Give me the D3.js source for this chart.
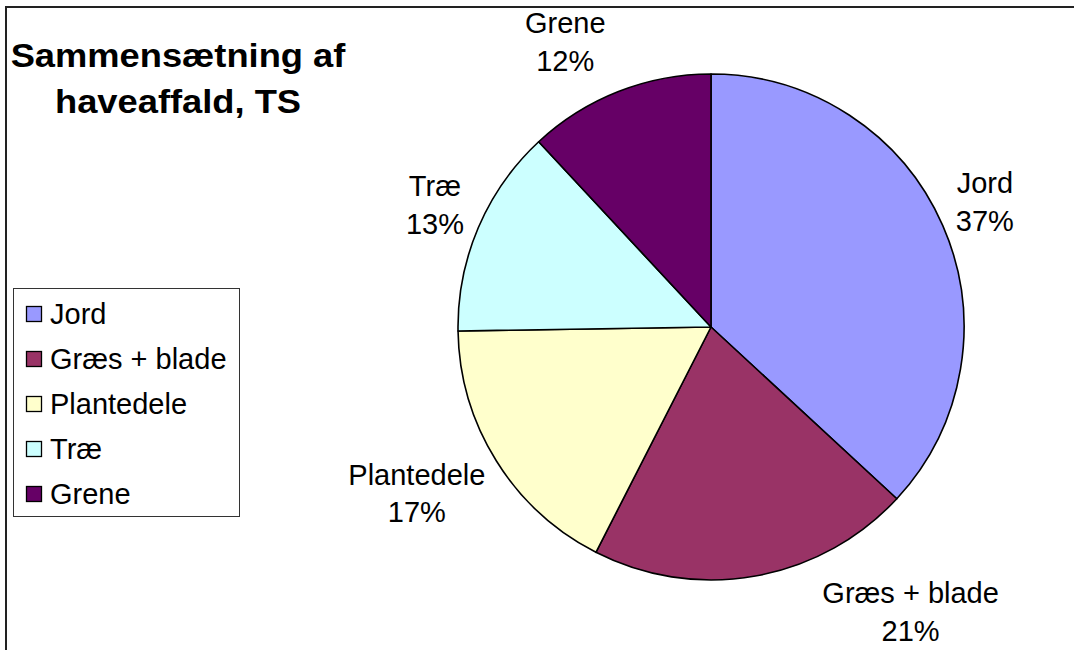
<!DOCTYPE html>
<html>
<head>
<meta charset="utf-8">
<script src="https://cdn.jsdelivr.net/npm/d3@7"></script>
<style>
  html, body { margin: 0; padding: 0; background: #fff; }
  svg { display: block; font-family: "Liberation Sans", Arial, sans-serif; }
</style>
</head>
<body>
<svg id="chart" width="1074" height="650"></svg>
<script>
// ---- data ----
const categories = ["Jord", "Græs + blade", "Plantedele", "Træ", "Grene"];
const values = [36.8, 20.6, 17.2, 13.3, 11.9];
const colors = ["#9999FF", "#993366", "#FFFFCC", "#CCFFFF", "#660066"];
const titleLines = ["Sammensætning af", "haveaffald, TS"];
// label placement (angle in degrees clockwise from top, distance from centre)
const labelAngles = [65.5, 145, 240.5, 293.9, 332.9];
const labelDist = [301, 348, 338, 302, 320];

// ---- layout ----
const W = 1074, H = 650;
const cx = 711, cy = 327, R = 253;
const svg = d3.select("#chart");

// outer frame (only top and left edges visible)
svg.append("rect")
  .attr("x", 6).attr("y", 7)
  .attr("width", W + 20).attr("height", H + 20)
  .attr("fill", "#fff")
  .attr("stroke", "#222").attr("stroke-width", 2);

const data = categories.map((c, i) => ({ name: c, value: values[i], color: colors[i] }));
const total = d3.sum(values);

const pie = d3.pie().sort(null).value(d => d.value).startAngle(0).endAngle(2 * Math.PI);
const arc = d3.arc().innerRadius(0).outerRadius(R);

const g = svg.append("g").attr("transform", `translate(${cx},${cy})`);
g.selectAll("path.slice")
  .data(pie(data))
  .join("path")
  .attr("class", "slice")
  .attr("d", arc)
  .attr("fill", d => d.data.color)
  .attr("stroke", "#000")
  .attr("stroke-width", 1.6)
  .attr("stroke-linejoin", "round");

// labels
const fmt = v => Math.round(v / total * 100) + "%";
data.forEach((d, i) => {
  const a = labelAngles[i] * Math.PI / 180;
  const lx = labelDist[i] * Math.sin(a);
  const ly = -labelDist[i] * Math.cos(a);
  const t = g.append("text")
    .attr("x", lx).attr("y", ly)
    .attr("text-anchor", "middle")
    .attr("font-size", 29)
    .attr("fill", "#000");
  t.append("tspan").attr("x", lx).attr("dy", "-0.3em").text(d.name);
  t.append("tspan").attr("x", lx).attr("dy", "1.3em").text(fmt(d.value));
});

// title
const title = svg.append("g").attr("transform", "translate(178,0)");
titleLines.forEach((line, i) => {
  title.append("text")
    .attr("x", 0).attr("y", 67 + i * 46)
    .attr("text-anchor", "middle")
    .attr("font-size", 33)
    .attr("font-weight", "bold")
    .attr("transform", "scale(1.1,1)")
    .attr("fill", "#000")
    .text(line);
});

// legend
const lg = svg.append("g").attr("transform", "translate(13,288)");
lg.append("rect")
  .attr("x", 0.5).attr("y", 0.5)
  .attr("width", 226).attr("height", 228)
  .attr("fill", "#fff").attr("stroke", "#333").attr("stroke-width", 1);
const rowY = d3.scalePoint().domain(categories).range([26, 206]);
const items = lg.selectAll("g.item").data(data).join("g")
  .attr("class", "item")
  .attr("transform", d => `translate(0,${rowY(d.name)})`);
items.append("rect")
  .attr("x", 13.5).attr("y", -7.5)
  .attr("width", 15).attr("height", 15)
  .attr("fill", d => d.color)
  .attr("stroke", "#000").attr("stroke-width", 1.3);
items.append("text")
  .attr("x", 37).attr("y", 10)
  .attr("font-size", 29)
  .attr("fill", "#000")
  .text(d => d.name);
</script>
</body>
</html>
